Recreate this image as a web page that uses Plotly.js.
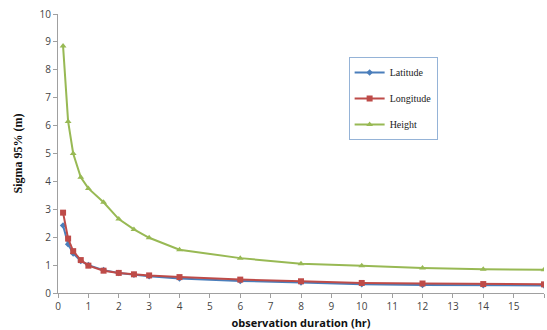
<!DOCTYPE html>
<html><head><meta charset="utf-8">
<script src="https://cdn.plot.ly/plotly-3.0.1.min.js"></script>
<style>html,body{margin:0;padding:0;background:#fff}</style>
</head><body>
<div id="chart" style="width:547px;height:330px"></div>
<script>
const hours = [0.167, 0.333, 0.5, 0.75, 1, 1.5, 2, 2.5, 3, 4, 6, 8, 10, 12, 14, 16];
const latitude = [2.42, 1.75, 1.42, 1.15, 1.0, 0.82, 0.72, 0.65, 0.6, 0.52, 0.43, 0.38, 0.31, 0.29, 0.28, 0.27];
const longitude = [2.88, 1.95, 1.5, 1.18, 0.98, 0.8, 0.72, 0.67, 0.63, 0.57, 0.48, 0.42, 0.36, 0.34, 0.32, 0.31];
const height = [8.85, 6.15, 5.0, 4.15, 3.75, 3.25, 2.65, 2.28, 1.98, 1.55, 1.25, 1.05, 0.98, 0.9, 0.85, 0.83];

const traces = [
  {x: hours, y: latitude, name: 'Latitude', legendgroup: 'a', mode: 'lines+markers',
   line: {color: '#4a7ebb', width: 2}, marker: {symbol: 'diamond', size: 5, color: '#4a7ebb'}},
  {x: hours, y: longitude, name: 'Longitude', legendgroup: 'b', mode: 'lines+markers',
   line: {color: '#be4b48', width: 2}, marker: {symbol: 'square', size: 6, color: '#be4b48'}},
  {x: hours, y: height, name: 'Height', legendgroup: 'c', mode: 'lines+markers',
   line: {color: '#98b954', width: 2}, marker: {symbol: 'triangle-up', size: 6, color: '#98b954'}}
];

const layout = {
  width: 547, height: 330,
  margin: {l: 58, r: 3, t: 14, b: 37},
  paper_bgcolor: '#fff', plot_bgcolor: '#fff',
  showlegend: true,
  legend: {x: 0.598, y: 0.846, xanchor: 'left', yanchor: 'top',
    bordercolor: '#95b3d7', borderwidth: 1, bgcolor: '#fff',
    font: {family: 'Liberation Serif, Times New Roman, serif', size: 10, color: '#222'},
    tracegroupgap: 7, itemwidth: 30},
  xaxis: {range: [0, 16], dtick: 1, tick0: 0, showgrid: false, zeroline: false,
    showline: true, linecolor: '#a0a0a0', linewidth: 1, ticks: 'outside', ticklen: 4, tickcolor: '#a0a0a0',
    tickfont: {family: 'Open Sans, Liberation Sans, sans-serif', size: 10, color: '#444'},
    title: {text: '<b>observation duration (hr)</b>', standoff: 9,
      font: {family: 'Open Sans, Liberation Sans, sans-serif', size: 11, color: '#111'}}},
  yaxis: {range: [0, 10], dtick: 1, tick0: 0, showgrid: false, zeroline: false,
    showline: true, linecolor: '#a0a0a0', linewidth: 1, ticks: 'outside', ticklen: 4, tickcolor: '#a0a0a0',
    tickfont: {family: 'Open Sans, Liberation Sans, sans-serif', size: 10, color: '#444'},
    title: {text: '<b>Sigma 95% (m)</b>', standoff: 14,
      font: {family: 'Liberation Serif, Times New Roman, serif', size: 12, color: '#111'}}}
};
Plotly.newPlot('chart', traces, layout, {displayModeBar: false, staticPlot: true});
</script>
</body></html>
